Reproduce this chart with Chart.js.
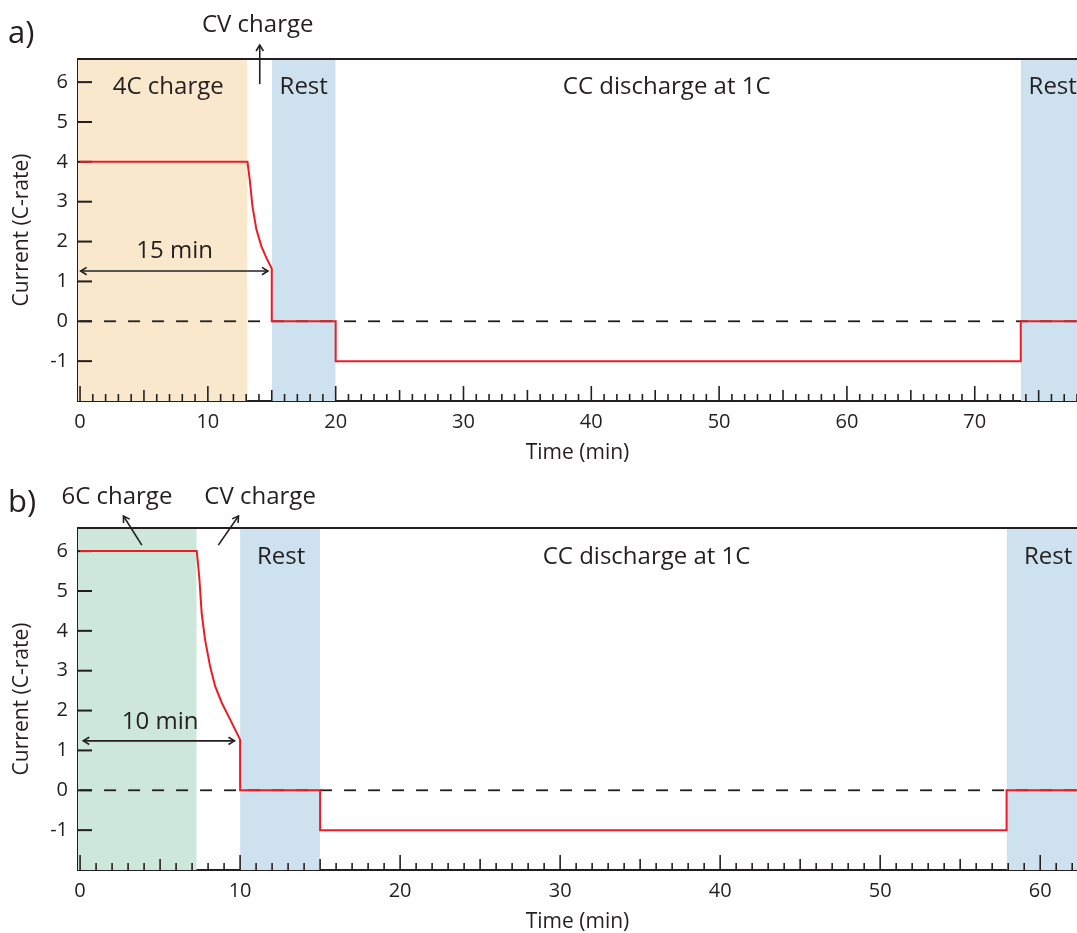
<!DOCTYPE html>
<html>
<head>
<meta charset="utf-8">
<script src="https://cdn.jsdelivr.net/npm/chart.js@4.4.0/dist/chart.umd.min.js"></script>
<style>
    html, body { margin: 0; padding: 0; background: #fff; }
    #wrap { position: relative; width: 1077px; height: 933px; overflow: hidden; }
    canvas { position: absolute; left: 0; }
    #chart-a { top: 0; }
    #chart-b { top: 469px; }
</style>
</head>
<body>
<div id="wrap">
    <canvas id="chart-a" width="1077" height="466"></canvas>
    <canvas id="chart-b" width="1077" height="466"></canvas>
</div>
<script>
/* ---- data ---- */
const timeA    = [0, 13.1, 13.18, 13.28, 13.49, 13.8, 14.19, 14.58, 15.0, 15.0, 20.0, 20.0, 73.6, 73.6, 78];
const currentA = [4, 4, 3.8, 3.55, 2.88, 2.3, 1.88, 1.59, 1.32, 0, 0, -1, -1, 0, 0];
const timeB    = [0, 7.29, 7.38, 7.46, 7.6, 7.81, 8.125, 8.44, 8.86, 9.375, 10.0, 10.0, 15.0, 15.0, 57.9, 57.9, 62.5];
const currentB = [6, 6, 5.65, 5.28, 4.44, 3.78, 3.11, 2.61, 2.19, 1.78, 1.27, 0, 0, -1, -1, 0, 0];

const yTicks  = [-1, 0, 1, 2, 3, 4, 5, 6];
const xTicksA = [0, 10, 20, 30, 40, 50, 60, 70];
const xTicksB = [0, 10, 20, 30, 40, 50, 60];

const chargeBandA = [-0.16, 13.1];
const restBandsA  = [[15, 20], [73.6, 78]];
const chargeBandB = [-0.13, 7.29];
const restBandsB  = [[10, 15], [57.9, 62.5]];

const Y_MIN = -2, Y_MAX = 6.58;

/* ---- styles ---- */
const FONT = '"Open Sans", "Noto Sans", sans-serif';
const INK = '#231f20';
const RED = '#ed1c24';
const BLUE = '#cde1ef';
const ORANGE = '#fae8cc';
const GREEN = '#cde8da';

/* annotations: x in min, y in C-rate */
const notesA = [
    { t: '4C charge', x: 6.9, y: 5.88 },
    { t: 'Rest', x: 17.5, y: 5.88 },
    { t: 'CC discharge at 1C', x: 45.9, y: 5.88 },
    { t: 'Rest', x: 76.1, y: 5.88 },
    { t: 'CV charge', x: 13.9, y: 7.43 },
    { t: '15 min', x: 7.4, y: 1.75 },
];
const arrowsA = [
    { x1: 14.06, y1: 5.95, x2: 14.06, y2: 6.93, both: false },
    { x1: 0.05, y1: 1.26, x2: 14.7, y2: 1.26, both: true },
];
const notesB = [
    { t: '6C charge', x: 2.3, y: 7.35 },
    { t: 'CV charge', x: 11.25, y: 7.35 },
    { t: 'Rest', x: 12.56, y: 5.85 },
    { t: 'CC discharge at 1C', x: 35.4, y: 5.85 },
    { t: 'Rest', x: 60.5, y: 5.85 },
    { t: '10 min', x: 5.0, y: 1.72 },
];
const arrowsB = [
    { x1: 3.86, y1: 6.15, x2: 2.71, y2: 6.88, both: false },
    { x1: 8.64, y1: 6.15, x2: 9.9, y2: 6.88, both: false },
    { x1: 0.2, y1: 1.24, x2: 9.65, y2: 1.24, both: true },
];

function band(lo, hi, color) {
    return { data: [{ x: lo, y: Y_MAX }, { x: hi, y: Y_MAX }], fill: 'start', backgroundColor: color,
             borderWidth: 0, pointRadius: 0 };
}

function head(ctx, x, y, ang) {
    const L = 7, a = 0.55;
    ctx.beginPath();
    ctx.moveTo(x - L * Math.cos(ang - a), y - L * Math.sin(ang - a));
    ctx.lineTo(x, y);
    ctx.lineTo(x - L * Math.cos(ang + a), y - L * Math.sin(ang + a));
    ctx.stroke();
}

const decor = {
    id: 'decor',
    // ticks go above the bands and dashed line (dataset 1) but under the red trace (dataset 0)
    afterDatasetDraw(chart, args) {
        if (args.index !== 1) return;
        const { ctx, chartArea: ca } = chart;
        const xs = chart.scales.x, ys = chart.scales.y;
        ctx.save();
        ctx.strokeStyle = INK; ctx.lineCap = 'butt';
        ctx.lineWidth = 2;
        ctx.beginPath(); ctx.moveTo(ca.left, ca.top); ctx.lineTo(ca.right, ca.top); ctx.stroke();
        yTicks.forEach(v => {
            const py = ys.getPixelForValue(v);
            ctx.beginPath(); ctx.moveTo(ca.left, py); ctx.lineTo(ca.left + 14, py); ctx.stroke();
        });
        ctx.lineWidth = 1.6;
        for (let m = 0; m <= xs.max; m++) {
            const px = xs.getPixelForValue(m);
            const len = m % 10 === 0 ? 15 : (m % 5 === 0 ? 11 : 7);
            ctx.beginPath(); ctx.moveTo(px, ca.bottom); ctx.lineTo(px, ca.bottom - len); ctx.stroke();
        }
        ctx.restore();
    },
    afterDatasetsDraw(chart, args, o) {
        const { ctx } = chart;
        const xs = chart.scales.x, ys = chart.scales.y;
        ctx.save();
        ctx.strokeStyle = INK; ctx.fillStyle = INK;
        ctx.lineWidth = 1.6;
        o.arrows.forEach(a => {
            const x1 = xs.getPixelForValue(a.x1), y1 = ys.getPixelForValue(a.y1);
            const x2 = xs.getPixelForValue(a.x2), y2 = ys.getPixelForValue(a.y2);
            ctx.beginPath(); ctx.moveTo(x1, y1); ctx.lineTo(x2, y2); ctx.stroke();
            const ang = Math.atan2(y2 - y1, x2 - x1);
            head(ctx, x2, y2, ang);
            if (a.both) head(ctx, x1, y1, ang + Math.PI);
        });
        ctx.font = `24px ${FONT}`;
        ctx.textAlign = 'center'; ctx.textBaseline = 'middle';
        o.notes.forEach(n => ctx.fillText(n.t, xs.getPixelForValue(n.x), ys.getPixelForValue(n.y)));
        ctx.font = `31px ${FONT}`;
        ctx.textAlign = 'left';
        ctx.fillText(o.letter, 8, 34);
        ctx.restore();
    }
};

function makePanel(id, t, c, xMin, xMax, xTicks, chargeBand, chargeColor, restBands, notes, arrows, letter) {
    const datasets = [
        { data: t.map((v, i) => ({ x: v, y: c[i] })), borderColor: RED, borderWidth: 2, pointRadius: 0, tension: 0, fill: false },
        { data: [{ x: 0, y: 0 }, { x: xMax, y: 0 }], borderColor: INK, borderWidth: 1.8, borderDash: [12, 12], pointRadius: 0, fill: false },
        band(chargeBand[0], chargeBand[1], chargeColor),
        ...restBands.map(r => band(r[0], r[1], BLUE)),
    ];
    const tickFont = { family: FONT, size: 20 };
    const titleFont = { family: FONT, size: 21 };
    return new Chart(document.getElementById(id), {
        type: 'line',
        data: { datasets },
        options: {
            responsive: false, animation: false, events: [],
            layout: { padding: { top: 59, left: 0, right: 0, bottom: 0 } },
            plugins: { legend: { display: false }, tooltip: { enabled: false }, decor: { notes, arrows, letter } },
            scales: {
                x: { type: 'linear', min: xMin, max: xMax,
                     afterBuildTicks: s => { s.ticks = xTicks.map(v => ({ value: v })); },
                     afterFit: s => { s.height = 65; },
                     grid: { display: false, drawTicks: false },
                     border: { display: true, color: INK, width: 2 },
                     ticks: { color: INK, font: tickFont, padding: 9, maxRotation: 0, autoSkip: false },
                     title: { display: true, text: 'Time (min)', color: INK, font: titleFont, padding: { top: 0, bottom: 0 } } },
                y: { type: 'linear', min: Y_MIN, max: Y_MAX,
                     afterBuildTicks: s => { s.ticks = yTicks.map(v => ({ value: v })); },
                     afterFit: s => { s.width = 78; },
                     grid: { display: false, drawTicks: false },
                     border: { display: true, color: INK, width: 2 },
                     ticks: { color: INK, font: tickFont, padding: 10 },
                     title: { display: true, text: 'Current (C-rate)', color: INK, font: titleFont, padding: { top: 9, bottom: 0 } } },
            }
        },
        plugins: [decor]
    });
}

makePanel('chart-a', timeA, currentA, -0.16, 78, xTicksA, chargeBandA, ORANGE, restBandsA, notesA, arrowsA, 'a)');
makePanel('chart-b', timeB, currentB, -0.13, 62.3, xTicksB, chargeBandB, GREEN, restBandsB, notesB, arrowsB, 'b)');
</script>
</body>
</html>
